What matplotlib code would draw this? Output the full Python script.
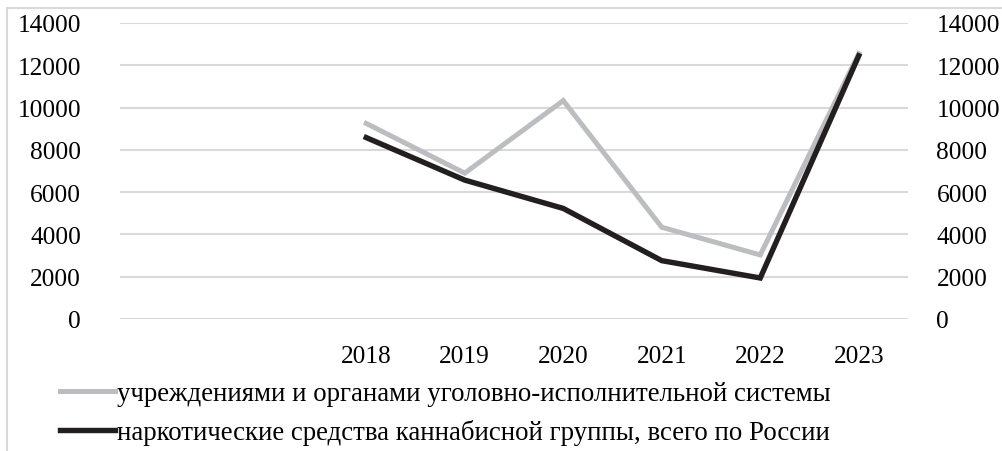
import matplotlib.pyplot as plt
from matplotlib.patches import Rectangle

# data
years = ["", "", "2018", "2019", "2020", "2021", "2022", "2023"]
uis_vals = [None, None, 9250, 6900, 10330, 4340, 3030, 12550]
cannabis_vals = [None, None, 8580, 6570, 5230, 2760, 1940, 12450]
label_uis = "учреждениями и органами уголовно-исполнительной системы"
label_cannabis = "наркотические средства каннабисной группы, всего по России"

plt.rcParams['font.family'] = ['Liberation Serif', 'DejaVu Serif']
FS = 18.3
FS_LEG = 19.4

W, H = 1003, 452
fig = plt.figure(figsize=(W / 100, H / 100), dpi=100)
ax = fig.add_axes([120 / W, 1 - 320 / H, (908 - 120) / W, (320 - 24) / H])

x = list(range(len(years)))
xs = [i for i, v in zip(x, uis_vals) if v is not None]
ys_uis = [v for v in uis_vals if v is not None]
ys_can = [v for v in cannabis_vals if v is not None]

l1, = ax.plot(xs, ys_uis, color='#bcbdc0', lw=3.6, solid_joinstyle='miter', zorder=3)
l2, = ax.plot(xs, ys_can, color='#231f20', lw=3.9, solid_joinstyle='miter', zorder=4)

ax.set_xlim(-0.5, len(years) - 0.5)
ax.set_ylim(0, 14000)
ax.set_yticks(range(0, 14001, 2000))
ax.set_xticks(x)
ax.set_xticklabels(years, fontsize=FS)
ax.yaxis.grid(True, color='#d9d9d9', lw=1.5)
ax.set_axisbelow(True)
for s in ax.spines.values():
    s.set_visible(False)
# pads are in points (1pt = 1.39px at 100 dpi)
ax.tick_params(axis='x', length=0, pad=19)
ax.tick_params(axis='y', length=0, labelsize=FS, pad=28)

ax2 = ax.twinx()
ax2.set_ylim(0, 14000)
ax2.set_yticks(range(0, 14001, 2000))
for s in ax2.spines.values():
    s.set_visible(False)
ax2.tick_params(axis='y', length=0, labelsize=FS, pad=20.5)

fig.legend([l1, l2], [label_uis, label_cannabis], loc='upper left',
           bbox_to_anchor=(60 / W, 1 - 382 / H), frameon=False, fontsize=FS_LEG,
           handlelength=2.05, handletextpad=0.05, labelspacing=0.5,
           borderaxespad=0, borderpad=0)

# outer frame (partly cropped in the source)
fig.patches.append(Rectangle((7 / W, -0.1), 1.2, 1 - 9 / H + 0.1,
                             transform=fig.transFigure, fill=False,
                             edgecolor='#d9d9d9', lw=1.5))

fig.savefig("out.png", dpi=100)
